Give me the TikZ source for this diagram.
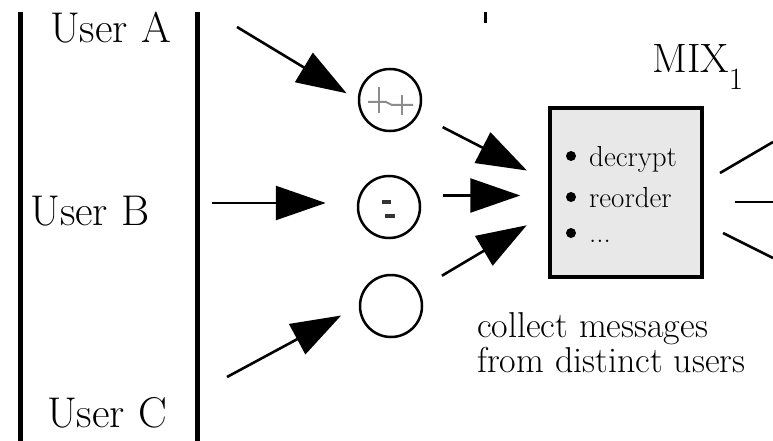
\documentclass[tikz,border=0pt]{standalone}
\usetikzlibrary{arrows.meta}
\begin{document}
\begin{tikzpicture}[x=1pt,y=-1pt,
  arr/.style={line width=2.6pt, -{Triangle[length=50pt,width=34pt]}},
  bar/.style={line width=5pt},
  outline/.style={line width=2.6pt},
  usr/.style={font=\fontsize{43}{52}\selectfont, anchor=base west, inner sep=0pt},
  itm/.style={font=\fontsize{29}{34}\selectfont, anchor=base west, inner sep=0pt},
  dot/.style={circle, fill=black, inner sep=0pt, minimum size=10pt},
  msg/.style={circle, draw, line width=2.5pt, minimum size=62pt, inner sep=0pt, fill=white},
  mixbox/.style={rectangle, draw, line width=3.5pt, fill=black!9, minimum width=152pt, minimum height=169pt, inner sep=0pt},
  glyph/.style={line width=2pt, black!45}
]
\useasboundingbox[fill=white] (0,0) rectangle (773,441);

% vertical bars
\coordinate (l1t) at (20,12);  \coordinate (l1b) at (20,441);
\coordinate (l2t) at (197,12); \coordinate (l2b) at (197,441);
\draw[bar] (l1t) -- (l1b);
\draw[bar] (l2t) -- (l2b);

% small tick at the top
\coordinate (k1) at (485,12); \coordinate (k2) at (485,23);
\draw[line width=3pt] (k1) -- (k2);

% users
\node[usr] (ua) at (50,43) {User A};
\node[usr] (ub) at (30,225) {User B};
\node[usr] (uc) at (47,427) {User C};

% messages
\node[msg] (c1) at (390,100) {};
\node[msg] (c2) at (389,207) {};
\node[msg] (c3) at (391,306) {};

% marks inside circles
\draw[glyph] (368,102) -- (386,102) -- (392,105) -- (413,105);
\draw[glyph] (379,87) -- (379,113);
\draw[glyph] (402,95) -- (402,115);
\draw[line width=3.5pt, black!80] (382,202) -- (391,202);
\draw[line width=3.5pt, black!80] (385,216) -- (395,216);

% arrows from users
\coordinate (sA) at (237,27);
\coordinate (sB) at (212,203);
\coordinate (sC) at (227,377);
\draw[arr, shorten >=13pt] (sA) -- (c1.west);
\draw[arr, shorten >=31pt] (sB) -- (sB -| c2.west);
\draw[arr, shorten >=20pt] (sC) -- (c3.west);

% mix box
\node[mixbox] (box) at (626,192.5) {};
\node[dot] (d1) at (571,156) {};
\node[dot] (d2) at (571,197) {};
\node[dot] (d3) at (571,233) {};
\node[itm] (i1) at (589,166) {decrypt};
\node[itm] (i2) at (589,207) {reorder};
\node[itm] (i3) at (589,242) {...};

\node[anchor=base west, inner sep=0pt, font=\fontsize{41}{48}\selectfont] (mix) at (652,73)
  {MIX\raisebox{-17pt}{\fontsize{31}{31}\selectfont 1}};

% arrows into box
\coordinate (t1) at ([yshift=11pt]box.west);
\coordinate (t2) at ([yshift=-3pt]box.west);
\coordinate (t3) at ([yshift=-20pt]box.west);
\draw[arr, shorten <=27pt, shorten >=24pt] (c1) -- (t1);
\draw[arr, shorten <=22pt, shorten >=28pt] (c2.east |- t2) -- (t2);
\draw[arr, shorten <=27pt, shorten >=25pt] (c3) -- (t3);

% outgoing lines (cut off)
\coordinate (o1a) at (720,173); \coordinate (o1b) at (773,142);
\coordinate (o2a) at (735,202); \coordinate (o2b) at (773,202);
\coordinate (o3a) at (723,233); \coordinate (o3b) at (773,258);
\draw[outline] (o1a) -- (o1b);
\draw[outline] (o2a) -- (o2b);
\draw[outline] (o3a) -- (o3b);

% caption (base anchor = baseline of the last line)
\node[anchor=base west, inner sep=0pt, align=left, font=\fontsize{36}{35}\selectfont] (cap) at (477,372)
  {collect messages\\from distinct users};
\end{tikzpicture}
\end{document}
